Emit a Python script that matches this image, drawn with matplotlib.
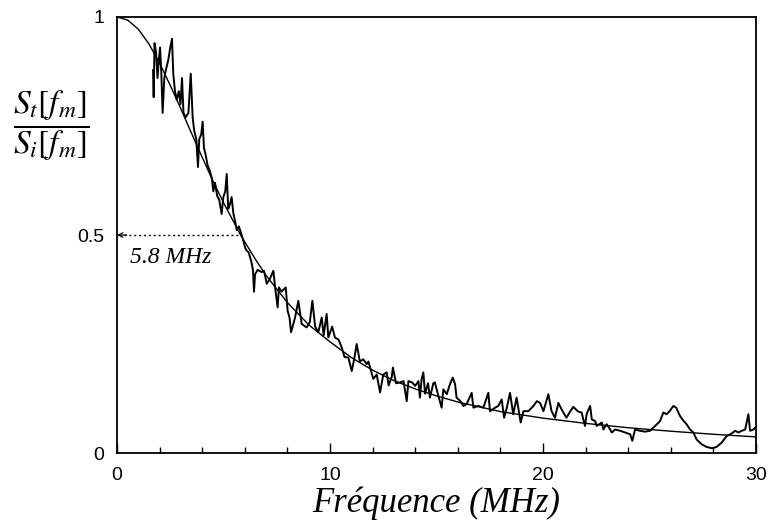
import matplotlib
matplotlib.use("Agg")
import matplotlib.pyplot as plt
import numpy as np

plt.rcParams["mathtext.fontset"] = "stix"

# smooth fitted transfer curve
fit_f = [0, 0.5, 1, 1.5, 2, 2.5, 3, 3.5, 4, 4.5, 5, 5.8, 6.5, 7, 8, 9, 10,
         11, 12, 13, 14, 15, 16, 18, 20, 22, 24, 26, 28, 30]
fit_v = [1.0, 0.993, 0.972, 0.938, 0.894, 0.843, 0.789, 0.733, 0.678, 0.624,
         0.574, 0.500, 0.444, 0.407, 0.345, 0.294, 0.255, 0.219, 0.190, 0.166,
         0.147, 0.131, 0.117, 0.095, 0.080, 0.068, 0.058, 0.050, 0.043, 0.037]

meas_f = [1.69, 1.72, 1.76, 1.83, 1.90, 1.96, 2.02, 2.08, 2.14, 2.22, 2.30, 2.40,
          2.50, 2.58, 2.64, 2.72, 2.80, 2.90, 2.98, 3.05, 3.12, 3.22, 3.35, 3.46,
          3.55, 3.62, 3.72, 3.80, 3.86, 3.95, 4.02, 4.08, 4.15, 4.25, 4.35, 4.45,
          4.52, 4.60, 4.70, 4.80, 4.91, 4.99, 5.08, 5.15, 5.22, 5.30, 5.38, 5.46,
          5.55, 5.62, 5.72, 5.85, 5.93, 6.02, 6.09, 6.18, 6.30, 6.38, 6.43, 6.48,
          6.60, 6.79, 6.90, 7.03, 7.18, 7.34, 7.42, 7.54, 7.60, 7.72, 7.92, 8.01,
          8.10, 8.17, 8.36, 8.51, 8.67, 8.90, 9.05, 9.17, 9.30, 9.45, 9.61, 9.70,
          9.84, 9.92, 10.10, 10.23, 10.40, 10.55, 10.68, 10.86, 11.02, 11.15, 11.25,
          11.40, 11.56, 11.72, 11.80, 12.03, 12.19, 12.35, 12.50, 12.66, 12.75,
          12.90, 12.95, 13.10, 13.29, 13.45, 13.60, 13.68, 13.85, 14.00, 14.15,
          14.22, 14.30, 14.38, 14.46, 14.60, 14.69, 14.85, 14.92, 15.08, 15.24,
          15.32, 15.48, 15.63, 15.76, 15.87, 15.94, 16.10, 16.26, 16.41, 16.65,
          16.73, 16.96, 17.20, 17.43, 17.51, 17.75, 17.90, 18.06, 18.17, 18.30,
          18.45, 18.60, 18.76, 18.95, 19.08, 19.31, 19.55, 19.71, 19.86, 20.02,
          20.25, 20.40, 20.56, 20.72, 20.87, 21.10, 21.27, 21.42, 21.65, 21.81,
          21.97, 22.05, 22.21, 22.29, 22.45, 22.52, 22.76, 22.83, 22.99, 23.15,
          23.23, 23.38, 23.62, 23.85, 24.09, 24.19, 24.32, 24.55, 24.79, 25.02,
          25.26, 25.49, 25.65, 25.80, 25.96, 26.12, 26.25, 26.43, 26.59, 26.74,
          26.90, 27.06, 27.21, 27.45, 27.68, 27.92, 28.15, 28.39, 28.62, 28.86,
          29.02, 29.17, 29.33, 29.49, 29.64, 29.72, 29.88, 29.95, 30.0]
meas_v = [0.878, 0.816, 0.940, 0.920, 0.860, 0.900, 0.930, 0.870, 0.780, 0.860,
          0.880, 0.900, 0.930, 0.950, 0.870, 0.830, 0.810, 0.830, 0.800, 0.860,
          0.780, 0.770, 0.780, 0.870, 0.770, 0.740, 0.720, 0.656, 0.720, 0.730,
          0.760, 0.700, 0.686, 0.660, 0.648, 0.630, 0.600, 0.620, 0.590, 0.580,
          0.548, 0.587, 0.600, 0.640, 0.560, 0.570, 0.587, 0.550, 0.530, 0.511,
          0.520, 0.500, 0.487, 0.470, 0.464, 0.460, 0.440, 0.420, 0.370, 0.410,
          0.420, 0.415, 0.418, 0.388, 0.400, 0.418, 0.380, 0.334, 0.380, 0.370,
          0.380, 0.326, 0.310, 0.277, 0.311, 0.349, 0.296, 0.288, 0.300, 0.349,
          0.290, 0.277, 0.311, 0.270, 0.319, 0.265, 0.290, 0.265, 0.260, 0.242,
          0.220, 0.219, 0.188, 0.220, 0.250, 0.210, 0.215, 0.204, 0.210, 0.170,
          0.180, 0.139, 0.180, 0.185, 0.155, 0.175, 0.196, 0.160, 0.162, 0.165,
          0.119, 0.165, 0.162, 0.154, 0.165, 0.127, 0.170, 0.185, 0.136, 0.160,
          0.127, 0.160, 0.162, 0.132, 0.104, 0.146, 0.135, 0.158, 0.173, 0.158,
          0.127, 0.120, 0.108, 0.112, 0.138, 0.104, 0.108, 0.104, 0.138, 0.096,
          0.104, 0.108, 0.123, 0.081, 0.104, 0.138, 0.089, 0.127, 0.070, 0.096,
          0.096, 0.108, 0.119, 0.115, 0.096, 0.135, 0.096, 0.081, 0.115, 0.100,
          0.081, 0.095, 0.106, 0.095, 0.093, 0.062, 0.090, 0.108, 0.077, 0.073,
          0.062, 0.070, 0.054, 0.066, 0.054, 0.047, 0.054, 0.051, 0.047, 0.043,
          0.028, 0.054, 0.051, 0.049, 0.051, 0.062, 0.073, 0.093, 0.089, 0.097,
          0.108, 0.104, 0.085, 0.074, 0.066, 0.054, 0.047, 0.031, 0.020, 0.014,
          0.011, 0.014, 0.024, 0.039, 0.045, 0.051, 0.047, 0.051, 0.054, 0.089,
          0.051, 0.054, 0.058, 0.060]

cutoff_f = 5.8
xticks = [0, 10, 20, 30]
yticks = [0, 0.5, 1]
ytick_labels = ["0", "0.5", "1"]

fig = plt.figure(figsize=(7.71, 5.23), dpi=100)
ax = fig.add_axes([0.1518, 0.1338, 0.8288, 0.8337])

ax.plot(fit_f, fit_v, color="black", lw=1.0)
ax.plot(meas_f, meas_v, color="black", lw=1.4)

# half-height marker
ax.plot([0.35, cutoff_f], [0.5, 0.5], color="black", lw=1.0, ls=(0, (1.5, 2)))
ax.annotate("", xy=(0, 0.5), xytext=(0.45, 0.5),
            arrowprops=dict(arrowstyle="->", color="black", lw=0.9,
                            shrinkA=0, shrinkB=0, mutation_scale=8))
ax.text(0.6, 0.448, "5.8 MHz", fontsize=17, fontstyle="italic",
        family="Liberation Serif", ha="left", va="center")

ax.set_xlim(0, 30)
ax.set_ylim(0, 1)
ax.set_xticks(xticks)
ax.set_xticks(np.arange(0, 31, 2), minor=True)
ax.set_yticks(yticks)
ax.set_yticklabels(ytick_labels)
ax.tick_params(axis="x", which="major", direction="in", length=7, width=1,
               pad=10, labelsize=14)
ax.tick_params(axis="x", which="minor", direction="in", length=4, width=1)
ax.tick_params(axis="y", direction="in", length=0, pad=9, labelsize=14)
for lab in ax.get_xticklabels() + ax.get_yticklabels():
    lab.set_family("Liberation Sans")
for sp in ax.spines.values():
    sp.set_linewidth(1.3)

ax.set_xlabel("Fréquence (MHz)", fontsize=25, fontstyle="italic",
              family="Liberation Serif", labelpad=2)
fig.text(0.067, 1 - 126 / 523,
         r"$\dfrac{S_t\left[f_m\right]}{S_i\left[f_m\right]}$",
         fontsize=24, ha="center", va="center")

fig.savefig("out.png", dpi=100)
